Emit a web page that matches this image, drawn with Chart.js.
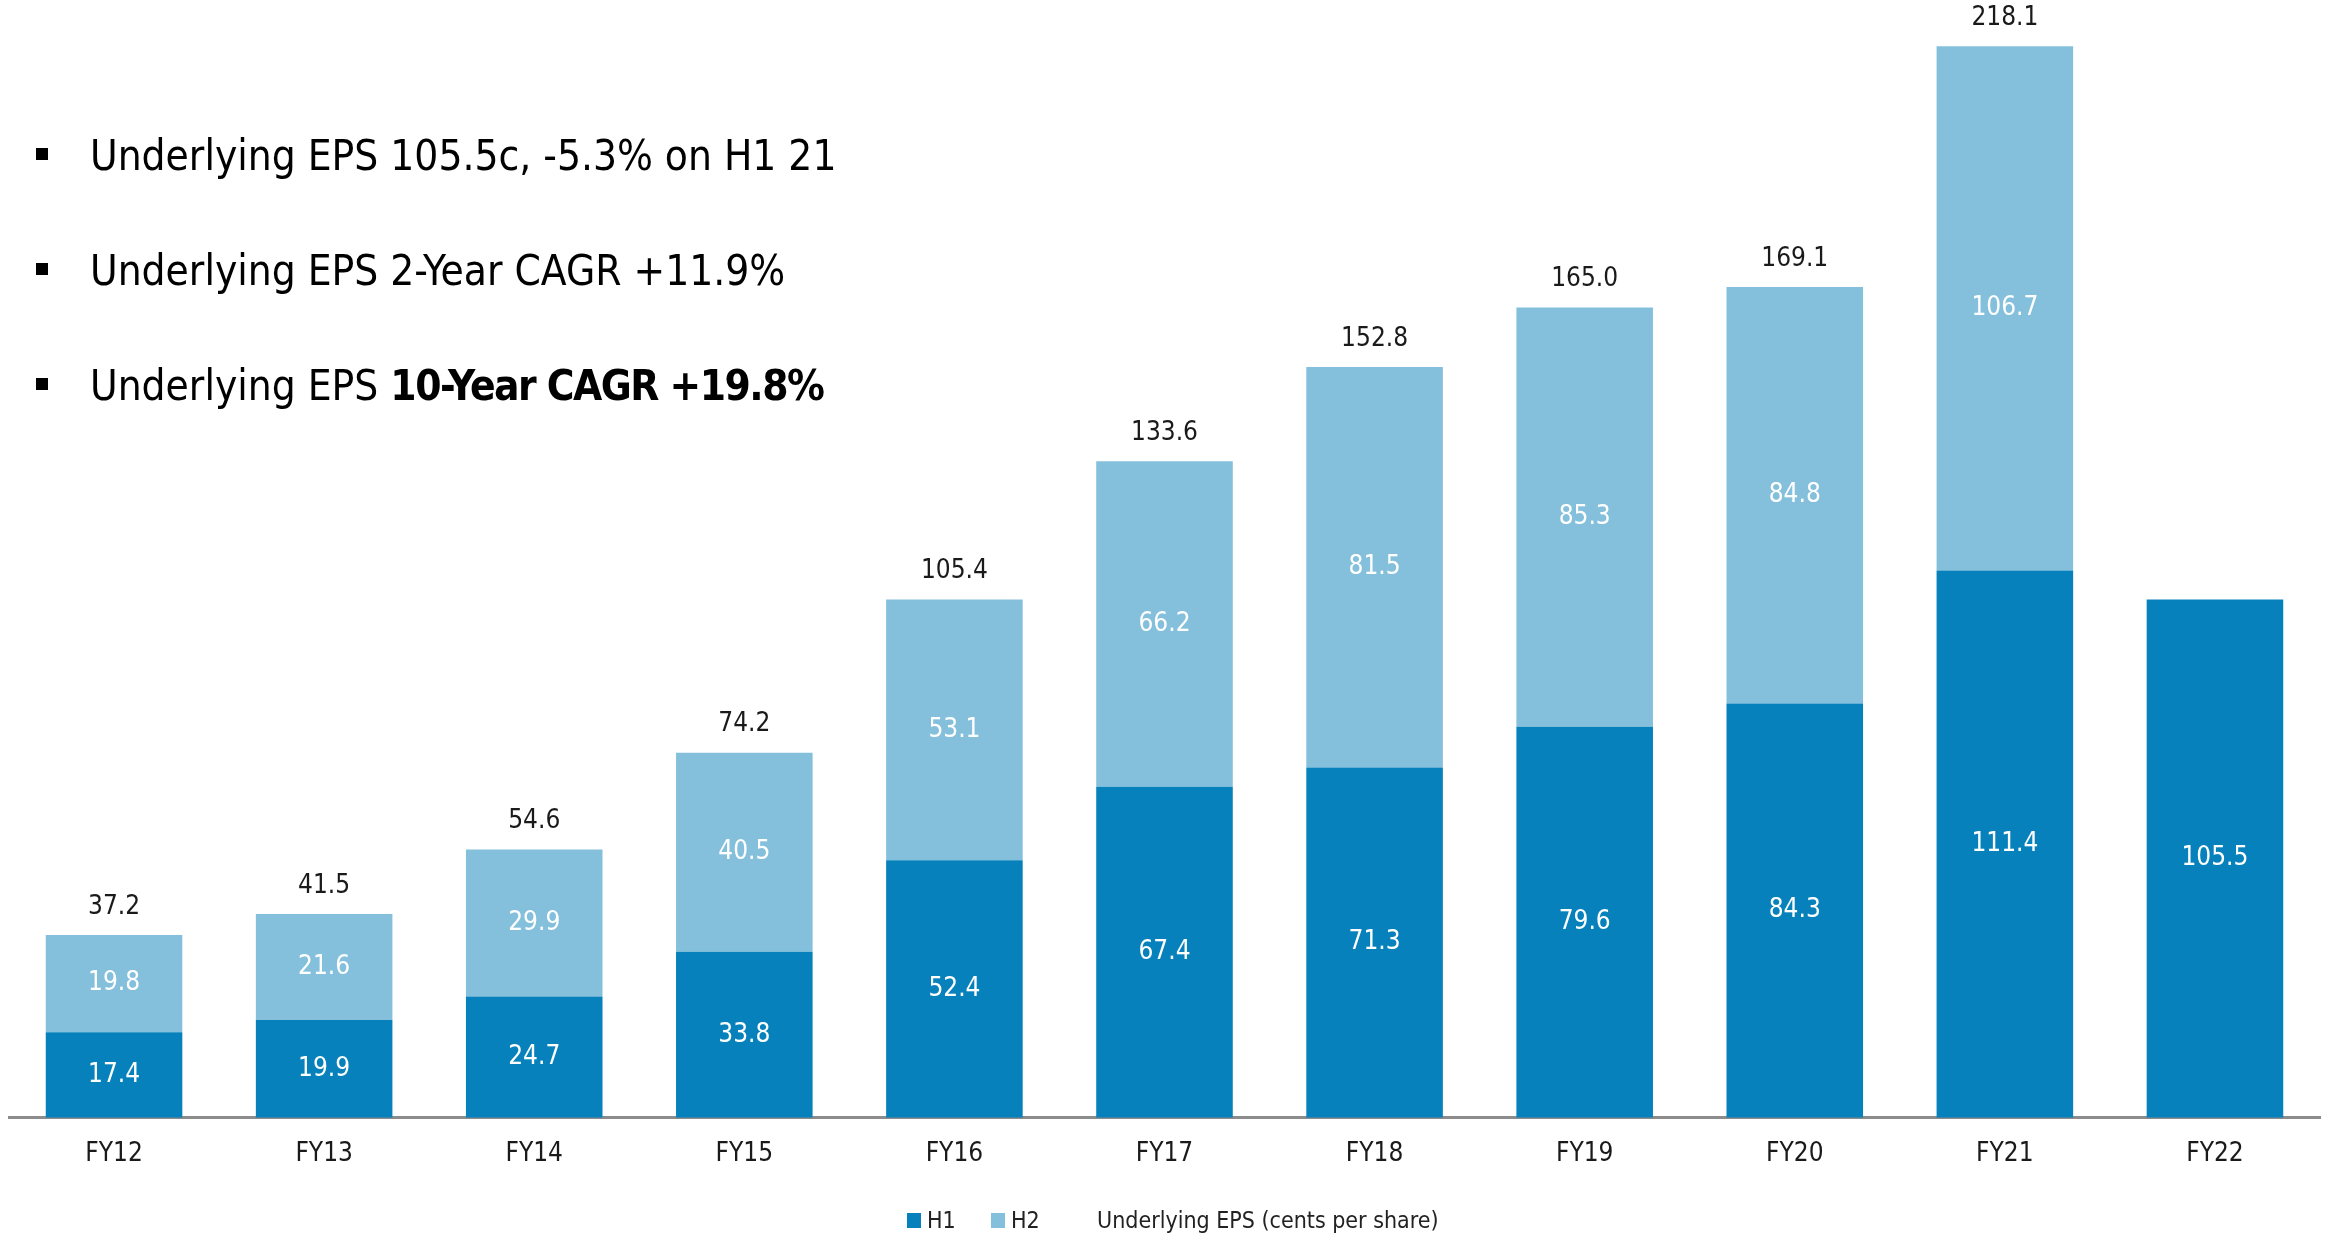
<!DOCTYPE html>
<html>
<head>
<meta charset="utf-8">
<script src="https://cdn.jsdelivr.net/npm/chart.js@4/dist/chart.umd.min.js"></script>
<style>
  body { margin: 0; background: #fff; }
  #wrap { position: relative; width: 2325px; height: 1233px; font-family: "Liberation Sans Narrow", "DejaVu Sans Condensed", "Open Sans", sans-serif; }
  canvas { position: absolute; left: 0; top: 0; }
  .bullet { position: absolute; left: 90px; font-size: 42px; color: #000; line-height: 1; transform: translateY(-50%); white-space: nowrap; }
  .bullet b { letter-spacing: -1.5px; }
  .bullet::before { content: ""; position: absolute; left: -54px; top: 50%; width: 12px; height: 12px; margin-top: -8px; background: #000; }
  .legend { position: absolute; top: 1220px; transform: translateY(-50%); font-size: 23px; color: #222; white-space: nowrap; }
  .sw { position: absolute; top: 1213px; width: 14px; height: 15px; }
</style>
</head>
<body>
<div id="wrap">
  <canvas id="epsChart" width="2325" height="1233"></canvas>
  <div class="bullet" style="top:156px">Underlying EPS 105.5c, -5.3% on H1 21</div>
  <div class="bullet" style="top:271px">Underlying EPS 2-Year CAGR +11.9%</div>
  <div class="bullet" style="top:386px">Underlying EPS <b>10-Year CAGR +19.8%</b></div>
  <div class="sw" style="left:907px; background:#0681bb"></div>
  <div class="legend" style="left:927px">H1</div>
  <div class="sw" style="left:991px; background:#84c0dc"></div>
  <div class="legend" style="left:1011px">H2</div>
  <div class="legend" style="left:1097px">Underlying EPS (cents per share)</div>
</div>
<script>
// data
const years = ['FY12', 'FY13', 'FY14', 'FY15', 'FY16', 'FY17', 'FY18', 'FY19', 'FY20', 'FY21', 'FY22'];
const h1 = [17.4, 19.9, 24.7, 33.8, 52.4, 67.4, 71.3, 79.6, 84.3, 111.4, 105.5];
const h2 = [19.8, 21.6, 29.9, 40.5, 53.1, 66.2, 81.5, 85.3, 84.8, 106.7, null];
const totals = [37.2, 41.5, 54.6, 74.2, 105.4, 133.6, 152.8, 165.0, 169.1, 218.1, null];

const labelFont = '26px "Liberation Sans Narrow", "DejaVu Sans Condensed", sans-serif';

// writes the segment values and the totals on top
const barLabels = {
    id: 'barLabels',
    afterDatasetsDraw(chart) {
        const ctx = chart.ctx;
        ctx.save();
        ctx.font = labelFont;
        ctx.textAlign = 'center';
        ctx.textBaseline = 'middle';
        chart.data.datasets.forEach((ds, di) => {
            const meta = chart.getDatasetMeta(di);
            meta.data.forEach((bar, i) => {
                if (ds.data[i] == null) return;
                ctx.fillStyle = '#ffffff';
                ctx.fillText(ds.data[i].toFixed(1), bar.x, (bar.y + bar.base) / 2);
            });
        });
        const top = chart.getDatasetMeta(1).data;
        ctx.fillStyle = '#1a1a1a';
        totals.forEach((t, i) => {
            if (t == null) return;
            ctx.fillText(t.toFixed(1), top[i].x, top[i].y - 28);
        });
        ctx.restore();
    }
};

new Chart(document.getElementById('epsChart'), {
    type: 'bar',
    data: {
        labels: years,
        datasets: [
            { label: 'H1', data: h1, backgroundColor: '#0681bb' },
            { label: 'H2', data: h2, backgroundColor: '#84c0dc' },
        ],
    },
    options: {
        responsive: false,
        animation: false,
        devicePixelRatio: 1,
        layout: { padding: { left: 9, right: 5, top: 0, bottom: 42 } },
        datasets: { bar: { categoryPercentage: 1, barPercentage: 0.65 } },
        plugins: { legend: { display: false }, tooltip: { enabled: false } },
        scales: {
            x: {
                stacked: true,
                grid: { display: false, drawTicks: false },
                border: { display: true, color: '#8c8c8c', width: 3 },
                ticks: {
                    padding: 21,
                    color: '#1a1a1a',
                    font: { family: '"Liberation Sans Narrow", "DejaVu Sans Condensed", sans-serif', size: 26 },
                },
            },
            y: { stacked: true, display: false, min: 0, max: 227.5 },
        },
    },
    plugins: [barLabels],
});
</script>
</body>
</html>
